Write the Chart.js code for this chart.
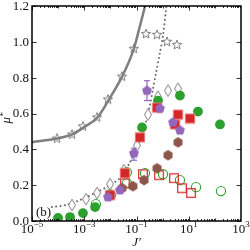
<!DOCTYPE html>
<html>
<head>
<meta charset="utf-8">
<script src="https://cdn.jsdelivr.net/npm/chart.js@4.4.0/dist/chart.umd.min.js"></script>
<style>
  html, body { margin: 0; padding: 0; background: #fff; }
  #chart { display: block; }
</style>
</head>
<body>
<canvas id="chart" width="250" height="250"></canvas>
<script>
// values (x is J', y is mu*)
const curveJ = [1e-5, 9.1e-5, 3.4e-4, 9.8e-4, 3.1e-3, 9.8e-3, 2.8e-2, 7.9e-2, 0.136, 0.211, 0.251];
const curveMu = [0.44, 0.46, 0.483, 0.524, 0.576, 0.69, 0.806, 0.961, 1.09, 1.2, 1.255];

const dotJ = [5.8e-5, 2.0e-4, 6.9e-4, 2.6e-3, 8.1e-3, 2.3e-2, 5.6e-2, 0.115, 0.211, 0.33, 0.43, 0.56, 0.79, 1.03, 1.35, 1.47];
const dotMu = [0.078, 0.089, 0.117, 0.156, 0.194, 0.239, 0.328, 0.422, 0.533, 0.65, 0.739, 0.828, 0.939, 1.033, 1.183, 1.228];

const starJ = [9.1e-5, 3.4e-4, 8.9e-4, 3.1e-3, 8.1e-3, 2.8e-2, 7.9e-2, 0.231, 0.61, 1.47, 3.55];
const starMu = [0.46, 0.483, 0.528, 0.578, 0.678, 0.806, 0.961, 1.044, 1.039, 1.0, 0.983];

const diamondJ = [3.4e-4, 1.17e-3, 3.1e-3, 9.7e-3, 3.3e-2, 0.104, 0.275, 0.665, 1.61, 3.88];
const diamondMu = [0.089, 0.122, 0.156, 0.206, 0.283, 0.422, 0.594, 0.694, 0.728, 0.739];

const greenJ = [9.9e-5, 2.85e-4, 8.9e-4, 2.6e-3, 9.7e-3, 0.163, 0.665, 4.6, 22.6, 157];
const greenMu = [0.017, 0.022, 0.044, 0.078, 0.15, 0.522, 0.672, 0.7, 0.611, 0.539];

const greenOpenJ = [2.8e-3, 1.06e-2, 4.3e-2, 4.3e-2, 0.211, 1.03, 4.6, 19, 171];
const greenOpenMu = [0.094, 0.144, 0.272, 0.211, 0.267, 0.261, 0.228, 0.189, 0.167];

const redJ = [9.7e-3, 3.6e-2, 0.136, 0.61, 2.98, 3.88, 11.2];
const redMu = [0.144, 0.267, 0.467, 0.633, 0.539, 0.594, 0.572];

const redOpenJ = [3.6e-2, 0.177, 0.73, 2.72, 5.5, 12.2];
const redOpenMu = [0.211, 0.261, 0.256, 0.239, 0.183, 0.156];

const purpleJ = [8.1e-3, 2.3e-2, 8.0e-2, 0.252, 0.79, 2.5, 4.6];
const purpleMu = [0.133, 0.172, 0.378, 0.728, 0.628, 0.55, 0.506];
// error bars on two of the purple points: [J, low, high]
const purpleErr = [[8.0e-2, 0.339, 0.406], [0.252, 0.672, 0.783]];

const brownJ = [2.8e-2, 7.3e-2, 0.194, 0.61, 1.61, 3.88];
const brownMu = [0.183, 0.194, 0.228, 0.294, 0.367, 0.439];

const xTickExp = [-5, -3, -1, 1, 3];
const yTicks = [0, 0.2, 0.4, 0.6, 0.8, 1.0, 1.2];

const GRAY = '#7f7f7f';
const GREEN = '#2ca02c';
const RED = '#d62728';
const PURPLE = '#9467bd';
const BROWN = '#8c564b';
const SERIF = '"Liberation Serif", "DejaVu Serif", serif';

const pts = (xs, ys) => xs.map((x, i) => ({ x: x, y: ys[i] }));

function marker(size, draw) {
  const c = document.createElement('canvas');
  c.width = size;
  c.height = size;
  const g = c.getContext('2d');
  g.translate(size / 2, size / 2);
  draw(g);
  return c;
}

function poly(g, n, r, rot) {
  g.beginPath();
  for (let i = 0; i < n; i++) {
    const t = rot + i * 2 * Math.PI / n;
    g.lineTo(r * Math.cos(t), r * Math.sin(t));
  }
  g.closePath();
}

const starImg = marker(14, g => {
  g.beginPath();
  for (let i = 0; i < 10; i++) {
    const r = i % 2 ? 2.1 : 5;
    const t = -Math.PI / 2 + i * Math.PI / 5;
    g.lineTo(r * Math.cos(t), r * Math.sin(t));
  }
  g.closePath();
  g.strokeStyle = GRAY;
  g.lineWidth = 1;
  g.stroke();
});

const diamondImg = marker(14, g => {
  g.beginPath();
  g.moveTo(0, -5.8);
  g.lineTo(3.5, 0);
  g.lineTo(0, 5.8);
  g.lineTo(-3.5, 0);
  g.closePath();
  g.fillStyle = '#fff';
  g.fill();
  g.strokeStyle = GRAY;
  g.lineWidth = 1;
  g.stroke();
});

const pentImg = marker(12, g => {
  poly(g, 5, 5.2, -Math.PI / 2);
  g.fillStyle = PURPLE;
  g.fill();
});

const hexImg = marker(12, g => {
  poly(g, 6, 5.2, -Math.PI / 2);
  g.fillStyle = BROWN;
  g.fill();
});

const squareImg = marker(12, g => {
  g.fillStyle = RED;
  g.fillRect(-4.8, -4.8, 9.6, 9.6);
  g.strokeStyle = '#ee8f90';
  g.lineWidth = 0.8;
  g.strokeRect(-4.8, -4.8, 9.6, 9.6);
});

const squareOpenImg = marker(12, g => {
  g.strokeStyle = RED;
  g.lineWidth = 1.2;
  g.strokeRect(-4.3, -4.3, 8.6, 8.6);
});

const datasets = [];

purpleErr.forEach(e => {
  datasets.push({
    data: [{ x: e[0], y: e[1] }, { x: e[0], y: e[2] }],
    showLine: true,
    borderColor: PURPLE,
    borderWidth: 1.2,
    pointStyle: 'line',
    pointRadius: 3,
    pointBorderColor: PURPLE,
    pointBorderWidth: 1.2
  });
});

datasets.push({ data: pts(purpleJ, purpleMu), pointStyle: pentImg, pointRadius: 5 });
datasets.push({ data: pts(brownJ, brownMu), pointStyle: hexImg, pointRadius: 5 });
datasets.push({ data: pts(redJ, redMu), pointStyle: squareImg, pointRadius: 5 });
datasets.push({ data: pts(redOpenJ, redOpenMu), pointStyle: squareOpenImg, pointRadius: 5 });
datasets.push({
  data: pts(greenOpenJ, greenOpenMu),
  pointRadius: 4.6,
  pointBackgroundColor: 'rgba(0,0,0,0)',
  pointBorderColor: GREEN,
  pointBorderWidth: 1.1
});
datasets.push({
  data: pts(greenJ, greenMu),
  pointRadius: 4.9,
  pointBackgroundColor: GREEN,
  pointBorderColor: GREEN,
  pointBorderWidth: 0
});
datasets.push({ data: pts(diamondJ, diamondMu), pointStyle: diamondImg, pointRadius: 5 });
datasets.push({ data: pts(starJ, starMu), pointStyle: starImg, pointRadius: 5 });
datasets.push({
  data: pts(dotJ, dotMu),
  showLine: true,
  tension: 0.3,
  borderColor: '#6f6f6f',
  borderWidth: 2,
  borderDash: [0.1, 4.2],
  borderCapStyle: 'round',
  pointRadius: 0,
  clip: 0
});
datasets.push({
  data: pts(curveJ, curveMu),
  showLine: true,
  cubicInterpolationMode: 'monotone',
  borderColor: GRAY,
  borderWidth: 2.5,
  pointRadius: 0,
  clip: 0
});

// frame, inward ticks, tick labels and axis labels
const frame = {
  id: 'frame',
  afterDraw(chart) {
    const ctx = chart.ctx;
    const a = chart.chartArea;
    const xs = chart.scales.x;
    const ys = chart.scales.y;
    ctx.save();
    ctx.strokeStyle = '#000';
    ctx.lineWidth = 0.8;
    ctx.beginPath();
    for (let e = -5; e < 3; e++) {
      for (let k = 1; k < 10; k++) {
        const px = Math.round(xs.getPixelForValue(k * Math.pow(10, e))) + 0.5;
        let len = 2;
        if (k === 1) len = xTickExp.includes(e) ? 4.5 : 2.5;
        ctx.moveTo(px, a.bottom);
        ctx.lineTo(px, a.bottom - len);
        ctx.moveTo(px, a.top);
        ctx.lineTo(px, a.top + len);
      }
    }
    yTicks.forEach(v => {
      const py = Math.round(ys.getPixelForValue(v)) + 0.5;
      ctx.moveTo(a.left, py);
      ctx.lineTo(a.left + 4.5, py);
      ctx.moveTo(a.right, py);
      ctx.lineTo(a.right - 4.5, py);
    });
    ctx.stroke();

    ctx.lineWidth = 1.5;
    ctx.strokeRect(a.left, a.top, a.right - a.left, a.bottom - a.top);

    ctx.fillStyle = '#111';
    ctx.font = '13px ' + SERIF;
    ctx.textAlign = 'right';
    ctx.textBaseline = 'middle';
    yTicks.forEach(v => {
      ctx.fillText(v.toFixed(1), a.left - 3, ys.getPixelForValue(v) + 0.5);
    });

    ctx.textAlign = 'left';
    ctx.textBaseline = 'alphabetic';
    xTickExp.forEach(e => {
      const px = xs.getPixelForValue(Math.pow(10, e));
      const sup = (e < 0 ? '\u2212' : '') + Math.abs(e);
      ctx.font = '13px ' + SERIF;
      const bw = ctx.measureText('10').width;
      ctx.font = '9px ' + SERIF;
      const ew = ctx.measureText(sup).width;
      const x0 = px - (bw + ew) / 2;
      ctx.font = '13px ' + SERIF;
      ctx.fillText('10', x0, a.bottom + 12);
      ctx.font = '9px ' + SERIF;
      ctx.fillText(sup, x0 + bw, a.bottom + 6);
    });

    // x label J'
    ctx.font = 'italic 13px ' + SERIF;
    ctx.textAlign = 'center';
    ctx.fillText('J\u2032', (a.left + a.right) / 2, 246);

    // y label mu*
    ctx.save();
    ctx.translate(10, (a.top + a.bottom) / 2 + 6);
    ctx.rotate(-Math.PI / 2);
    ctx.font = 'italic 13px ' + SERIF;
    ctx.textAlign = 'left';
    ctx.fillText('\u03bc', -4, 0);
    ctx.font = '9px ' + SERIF;
    ctx.fillText('*', 3, -4);
    ctx.restore();

    // panel label
    ctx.font = '13px ' + SERIF;
    ctx.textAlign = 'left';
    ctx.fillText('(b)', a.left + 4, a.bottom - 5);
    ctx.restore();
  }
};

new Chart(document.getElementById('chart'), {
  type: 'scatter',
  data: { datasets: datasets },
  options: {
    responsive: false,
    animation: false,
    events: [],
    layout: { padding: { top: 5, right: 9, left: 0, bottom: 0 } },
    plugins: { legend: { display: false }, tooltip: { enabled: false } },
    scales: {
      x: {
        type: 'logarithmic',
        min: 1e-5,
        max: 1e3,
        ticks: { display: false },
        grid: { display: false },
        border: { display: false },
        afterFit: s => { s.height = 29; }
      },
      y: {
        min: 0,
        max: 1.2,
        ticks: { display: false },
        grid: { display: false },
        border: { display: false },
        afterFit: s => { s.width = 32; }
      }
    }
  },
  plugins: [frame]
});
</script>
</body>
</html>
